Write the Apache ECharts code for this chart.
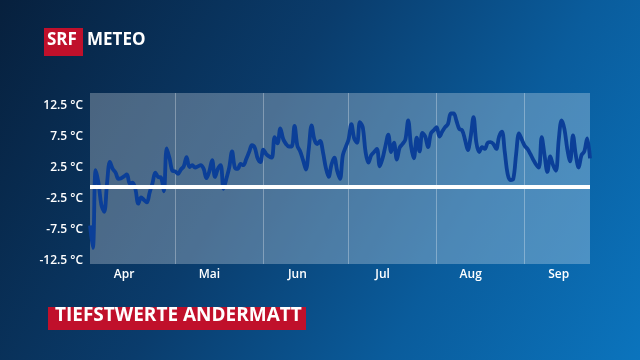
<!DOCTYPE html>
<html>
<head>
<meta charset="utf-8">
<script src="https://cdn.jsdelivr.net/npm/echarts@6/dist/echarts.min.js"></script>
<style>
html,body{margin:0;padding:0;width:640px;height:360px;overflow:hidden;}
#chart{width:640px;height:360px;background:linear-gradient(120deg,#07203d 0%,#0a3c6c 40%,#0a5c9c 70%,#0b74bd 100%);}
</style>
</head>
<body>
<div id="chart"></div>
<script>
// Month names and lengths (Apr 1 – Sep 24)
const monthNames = ['Apr', 'Mai', 'Jun', 'Jul', 'Aug', 'Sep'];
const monthDays = [30, 31, 30, 31, 31, 24];

// Daily minimum temperatures (°C), Andermatt
const aprValues = [-6.3,-9.9,2.6,0.5,-3.0,-4.1,0.5,3.9,2.8,2.2,1.2,1.3,1.6,1.9,0.4,0.6,-0.5,-2.8,-1.8,-2.2,-2.6,-1.0,0.5,2.2,1.5,1.4,-0.8,6.1,4.5,2.5];
const mayValues = [2.4,2.0,2.7,3.2,4.7,3.1,3.4,3.0,3.2,3.4,2.8,1.3,2.4,4.2,1.5,2.8,3.4,-0.4,1.2,3.0,5.6,3.0,2.8,3.6,3.4,4.4,5.5,6.6,6.2,4.5,3.9];
const junValues = [5.9,5.2,4.8,4.6,7.9,6.9,9.3,7.6,6.8,6.4,6.4,9.7,6.5,5.6,4.2,2.7,6.0,9.8,7.5,6.8,7.3,5.5,3.0,1.5,3.5,4.6,2.5,1.2,5.0,6.3];
const julValues = [7.5,10.0,7.7,7.0,10.3,9.5,5.5,3.8,5.0,5.5,6.0,3.2,4.5,6.5,8.3,5.5,7.0,4.3,6.2,6.8,7.5,10.6,6.5,4.5,7.8,5.6,8.6,8.0,6.3,8.5,9.0];
const augValues = [9.5,8.0,8.8,9.5,10.0,11.7,11.7,10.5,9.2,9.0,7.5,5.8,8.0,11.1,7.0,5.5,6.3,6.0,7.0,7.1,6.8,6.0,8.0,8.8,5.5,2.0,1.0,1.2,5.2,8.5,7.5];
const sepValues = [6.5,6.0,5.2,4.3,3.5,3.0,7.9,5.0,2.3,4.8,3.4,2.5,7.5,10.6,9.2,6.0,4.0,8.2,5.0,3.0,5.0,5.6,7.7,4.5];

// Y tick labels
const yTickValues = [-12.5, -7.5, -2.5, 2.5, 7.5, 12.5];

const values = [].concat(aprValues, mayValues, junValues, julValues, augValues, sepValues);

// Build date categories
const categories = [];
const catMonth = [];
const catDay = [];
monthDays.forEach((n, m) => {
  for (let d = 1; d <= n; d++) {
    categories.push(d + '.' + (m + 4) + '.');
    catMonth.push(m);
    catDay.push(d);
  }
});

const chart = echarts.init(document.getElementById('chart'), null, {renderer: 'canvas'});
const font = '"Open Sans", "Noto Sans", sans-serif';

chart.setOption({
  backgroundColor: 'transparent',
  animation: false,
  grid: {
    left: 90, right: 50, top: 93, bottom: 96,
    show: true,
    backgroundColor: 'rgba(255,255,255,0.27)',
    borderWidth: 0
  },
  xAxis: {
    type: 'category',
    data: categories,
    boundaryGap: false,
    axisLine: {show: false},
    axisTick: {show: false},
    axisLabel: {
      interval: (i) => catDay[i] === 13,
      formatter: (v, i) => monthNames[catMonth[i]],
      color: '#ffffff',
      fontFamily: font,
      fontWeight: 600,
      fontSize: 12,
      margin: 5
    },
    splitLine: {
      show: true,
      interval: (i) => catDay[i] === 1 && i > 0,
      lineStyle: {color: 'rgba(255,255,255,0.3)', width: 1}
    }
  },
  yAxis: {
    type: 'value',
    min: -12.5,
    max: 15,
    axisLine: {show: false},
    axisTick: {show: false},
    splitLine: {show: false},
    axisLabel: {
      customValues: yTickValues,
      formatter: (v) => v.toFixed(1) + ' °C',
      color: '#ffffff',
      fontFamily: font,
      fontWeight: 600,
      fontSize: 12,
      margin: 7,
      verticalAlign: 'bottom',
      lineHeight: 6
    }
  },
  series: [{
    type: 'line',
    data: values,
    smooth: 0.35,
    symbol: 'none',
    lineStyle: {color: '#0b3f98', width: 3.8},
    markLine: {
      silent: true,
      symbol: ['none', 'none'],
      label: {show: false},
      lineStyle: {color: '#ffffff', width: 4, type: 'solid'},
      data: [{yAxis: 0}]
    }
  }],
  graphic: [
    {type: 'rect', left: 44, top: 28, shape: {width: 39, height: 28}, style: {fill: '#c0102b'}},
    {type: 'text', left: 47, top: 32, style: {text: 'SRF', fill: '#fff', font: 'bold 17px ' + font}},
    {type: 'text', left: 87, top: 32, style: {text: 'METEO', fill: '#fff', font: 'bold 17px ' + font}},
    {type: 'rect', left: 48, top: 307, shape: {width: 258, height: 23}, style: {fill: '#c0102b'}},
    {type: 'text', left: 55, top: 306, style: {text: 'TIEFSTWERTE ANDERMATT', fill: '#fff', font: 'bold 19px ' + font}}
  ]
});
</script>
</body>
</html>
